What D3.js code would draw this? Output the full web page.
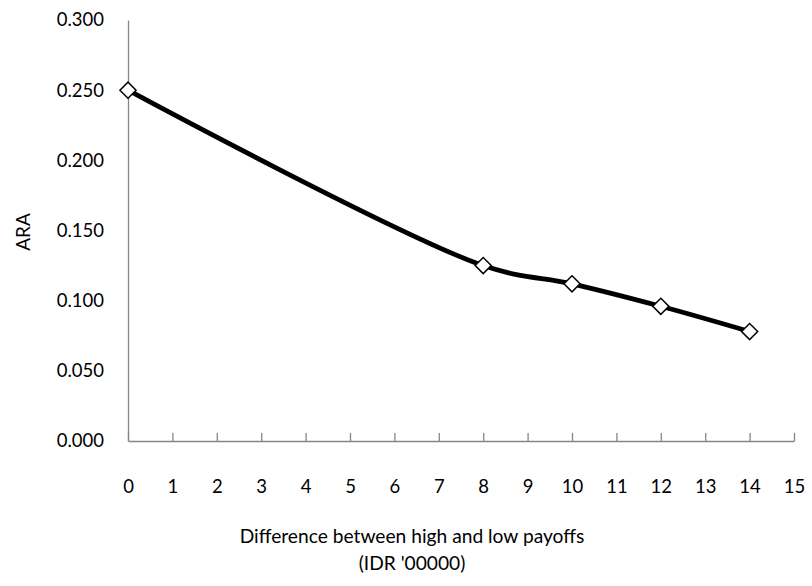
<!DOCTYPE html>
<html><head><meta charset="utf-8">
<script src="https://cdn.jsdelivr.net/npm/d3@7"></script>
<style>body{margin:0;background:#fff}svg{display:block}</style>
</head><body>
<svg id="chart" width="812" height="586"></svg>
<script>
const xValues = [0, 8, 10, 12, 14];
const araValues = [0.250, 0.125, 0.112, 0.096, 0.078];
const xTicks = [0,1,2,3,4,5,6,7,8,9,10,11,12,13,14,15];
const yTicks = [0, 0.05, 0.10, 0.15, 0.20, 0.25, 0.30];
const xTitleLines = ["Difference between high and low payoffs", "(IDR '00000)"];
const yTitle = "ARA";

const FONT = "Lato, 'Open Sans', sans-serif";
const svg = d3.select("#chart");
svg.append("rect").attr("width", 812).attr("height", 586).attr("fill", "#fff");

const x = d3.scaleLinear().domain([0, 15]).range([128, 794]);
const y = d3.scaleLinear().domain([0, 0.3]).range([441, 20]);
const axisColor = "#868686";

// Y axis (line only, no ticks)
const gy = svg.append("g").attr("transform", `translate(${x(0)},0)`)
  .call(d3.axisLeft(y).tickValues(yTicks).tickSize(0).tickPadding(24).tickFormat(d3.format(".3f")));
gy.select(".domain").attr("stroke", axisColor).attr("stroke-width", 1.3);
gy.selectAll("text").attr("font-family", FONT).attr("font-size", "18.5px").attr("fill", "#000");

// X axis with inward ticks
const gx = svg.append("g").attr("transform", `translate(0,${y(0)})`)
  .call(d3.axisBottom(x).tickValues(xTicks).tickSizeInner(-8).tickSizeOuter(0).tickFormat(d3.format("d")));
gx.select(".domain").attr("stroke", axisColor).attr("stroke-width", 1.3);
gx.selectAll(".tick line").attr("stroke", axisColor).attr("stroke-width", 1.3);
gx.selectAll("text").attr("y", 52).attr("dy", null)
  .attr("font-family", FONT).attr("font-size", "18.5px").attr("fill", "#000");

// Axis titles
svg.append("text").attr("x", 412).attr("text-anchor", "middle")
  .attr("font-family", FONT).attr("font-size", "19.2px").attr("fill", "#000")
  .selectAll("tspan").data(xTitleLines).join("tspan")
  .attr("x", 412).attr("y", (d, i) => 543 + i * 27).text(d => d);

svg.append("text").attr("transform", "translate(30,232) rotate(-90)")
  .attr("text-anchor", "middle").attr("font-family", FONT).attr("font-size", "19px")
  .attr("fill", "#000").text(yTitle);

// Data
const pts = xValues.map((v, i) => [v, araValues[i]]);
const line = d3.line().x(d => x(d[0])).y(d => y(d[1])).curve(d3.curveCatmullRom.alpha(0.5));
svg.append("path").datum(pts).attr("d", line).attr("fill", "none")
  .attr("stroke", "#000").attr("stroke-width", 4.8).attr("stroke-linejoin", "round");

const sym = d3.symbol().type(d3.symbolSquare).size(130);
svg.selectAll(".mk").data(pts).join("path").attr("class", "mk")
  .attr("d", sym)
  .attr("transform", d => `translate(${x(d[0])},${y(d[1])}) rotate(45)`)
  .attr("fill", "#fff").attr("stroke", "#000").attr("stroke-width", 1.5);
</script>
</body></html>
